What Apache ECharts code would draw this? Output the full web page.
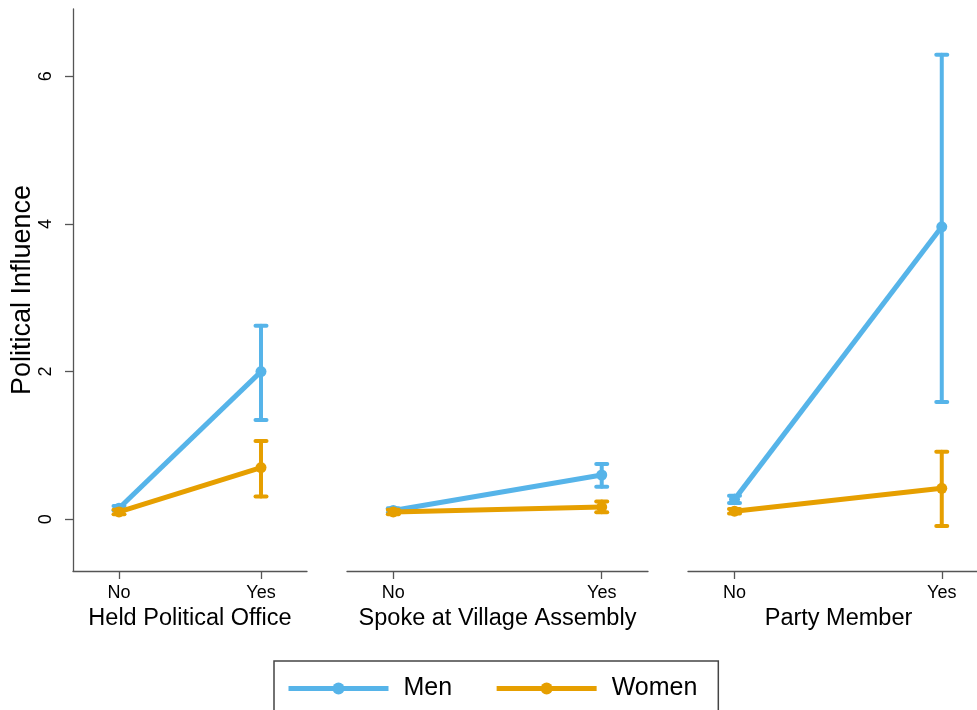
<!DOCTYPE html>
<html>
<head>
<meta charset="utf-8">
<title>Political Influence by Gender</title>
<script src="https://cdn.jsdelivr.net/npm/echarts@6/dist/echarts.min.js"></script>
<style>
  html, body { margin: 0; padding: 0; background: #ffffff; }
  #chart { width: 977px; height: 710px; }
</style>
</head>
<body>
<div id="chart"></div>
<script>
// Categories on each panel's x axis and the panel titles
const categories = ['No', 'Yes'];
const panelTitles = ['Held Political Office', 'Spoke at Village Assembly', 'Party Member'];
const yTicks = [0, 2, 4, 6];

// Point estimates per panel: [No, Yes]
const menMean   = [[0.15, 2.00], [0.12, 0.60], [0.27, 3.96]];
const womenMean = [[0.10, 0.70], [0.10, 0.165], [0.11, 0.42]];

// Confidence interval bounds per panel: [No, Yes]
const menLow    = [[0.12, 1.345], [0.09, 0.44], [0.22, 1.59]];
const menHigh   = [[0.18, 2.62], [0.15, 0.75], [0.32, 6.29]];
const womenLow  = [[0.07, 0.31], [0.07, 0.095], [0.08, -0.09]];
const womenHigh = [[0.13, 1.06], [0.13, 0.24], [0.14, 0.915]];

const BLUE = '#56B4E9';
const ORANGE = '#E69F00';
const AXIS = '#555555';
const FONT = '"Liberation Sans", Arial, Helvetica, sans-serif';

// Panel geometry (the last panel runs off the right edge of the canvas)
const grids = [
  { left: 73,  top: 9, width: 234, height: 562 },
  { left: 347, top: 9, width: 301, height: 562 },
  { left: 688, top: 9, right: 0,   height: 562 }
];
const xRanges = [[-0.324, 1.324], [-0.222, 1.222], [-0.2244, 1.170]];
// The last panel's title is centred on its full (clipped) axis length
const titlePadding = [[0, 0, 0, 0], [0, 0, 0, 0], [0, 0, 0, 12]];

function toPoints(vals) {
  return vals.map((v, i) => [i, v]);
}

function ciData(low, high) {
  return low.map((l, i) => [i, l, high[i]]);
}

function errorBarRenderer(color) {
  return function (params, api) {
    const x = api.value(0);
    const lo = api.coord([x, api.value(1)]);
    const hi = api.coord([x, api.value(2)]);
    const half = 5.5;
    const style = { stroke: color, lineWidth: 4, lineCap: 'round' };
    return {
      type: 'group',
      children: [
        { type: 'line', shape: { x1: lo[0], y1: lo[1], x2: hi[0], y2: hi[1] }, style: style },
        { type: 'line', shape: { x1: lo[0] - half, y1: lo[1], x2: lo[0] + half, y2: lo[1] }, style: style },
        { type: 'line', shape: { x1: hi[0] - half, y1: hi[1], x2: hi[0] + half, y2: hi[1] }, style: style }
      ]
    };
  };
}

const xAxes = [];
const yAxes = [];
const series = [];

panelTitles.forEach((title, p) => {
  xAxes.push({
    gridIndex: p,
    type: 'value',
    min: xRanges[p][0],
    max: xRanges[p][1],
    name: title,
    nameLocation: 'middle',
    nameGap: 36,
    nameTextStyle: { fontSize: 23.5, color: '#000', fontFamily: FONT, padding: titlePadding[p] },
    axisLine: { show: true, onZero: false, lineStyle: { color: AXIS, width: 1.3 } },
    axisTick: { show: true, length: 8, customValues: [0, 1], lineStyle: { color: AXIS, width: 1.3 } },
    axisLabel: {
      customValues: [0, 1],
      margin: 13,
      fontSize: 18,
      color: '#000',
      fontFamily: FONT,
      formatter: v => categories[Math.round(v)]
    },
    splitLine: { show: false }
  });
  yAxes.push({
    gridIndex: p,
    type: 'value',
    min: -0.70,
    max: 6.91,
    show: p === 0,
    name: p === 0 ? 'Political Influence' : '',
    nameLocation: 'middle',
    nameGap: 37,
    nameTextStyle: { fontSize: 27, color: '#000', fontFamily: FONT },
    axisLine: { show: true, onZero: false, lineStyle: { color: AXIS, width: 1.3 } },
    axisTick: { show: true, length: 8, customValues: yTicks, lineStyle: { color: AXIS, width: 1.3 } },
    axisLabel: {
      customValues: yTicks,
      rotate: 90,
      margin: 18,
      fontSize: 18,
      color: '#000',
      fontFamily: FONT
    },
    splitLine: { show: false }
  });

  series.push({
    name: 'Men CI',
    type: 'custom',
    xAxisIndex: p, yAxisIndex: p,
    z: 2,
    renderItem: errorBarRenderer(BLUE),
    data: ciData(menLow[p], menHigh[p])
  });
  series.push({
    name: 'Men',
    type: 'line',
    xAxisIndex: p, yAxisIndex: p,
    z: 3,
    symbol: 'circle',
    symbolSize: 11,
    itemStyle: { color: BLUE },
    lineStyle: { color: BLUE, width: 5 },
    data: toPoints(menMean[p])
  });
  series.push({
    name: 'Women CI',
    type: 'custom',
    xAxisIndex: p, yAxisIndex: p,
    z: 4,
    renderItem: errorBarRenderer(ORANGE),
    data: ciData(womenLow[p], womenHigh[p])
  });
  series.push({
    name: 'Women',
    type: 'line',
    xAxisIndex: p, yAxisIndex: p,
    z: 5,
    symbol: 'circle',
    symbolSize: 11,
    itemStyle: { color: ORANGE },
    lineStyle: { color: ORANGE, width: 5 },
    data: toPoints(womenMean[p])
  });
});

const chart = echarts.init(document.getElementById('chart'), null, { renderer: 'canvas' });
chart.setOption({
  backgroundColor: '#ffffff',
  animation: false,
  grid: grids,
  xAxis: xAxes,
  yAxis: yAxes,
  legend: {
    data: ['Men', 'Women'],
    left: 274,
    top: 661,
    orient: 'horizontal',
    itemWidth: 100,
    itemHeight: 15,
    itemGap: 42,
    padding: [15, 21, 20, 12],
    borderColor: '#444444',
    borderWidth: 1.5,
    lineStyle: { width: 5 },
    textStyle: { fontSize: 25, color: '#000', fontFamily: FONT, padding: [0, 0, 0, 10] }
  },
  series: series
});
</script>
</body>
</html>
